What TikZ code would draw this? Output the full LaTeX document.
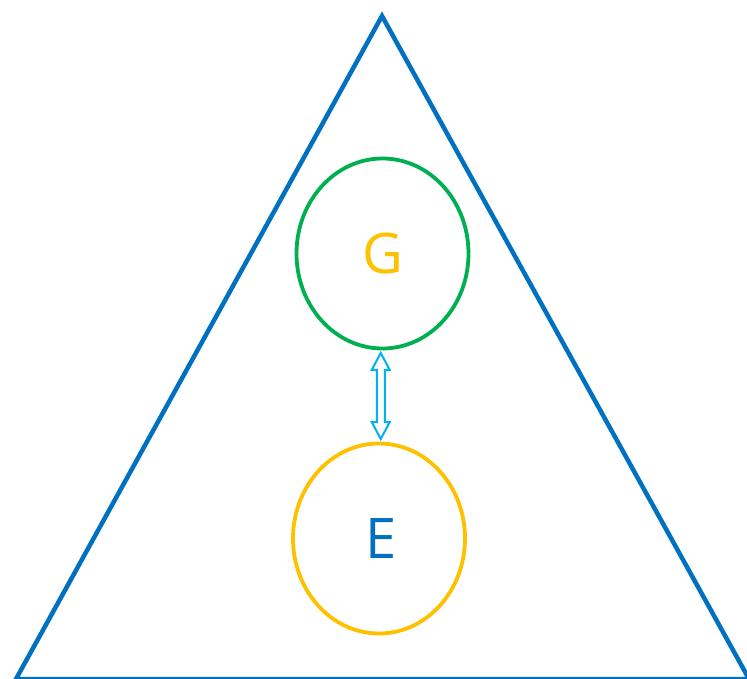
\documentclass[tikz,border=0pt]{standalone}
\usepackage{fontspec}
\setmainfont{Open Sans}
\usetikzlibrary{positioning, calc}
\usetikzlibrary{shapes}
\definecolor{triblue}{HTML}{0070C0}
\definecolor{ringgreen}{HTML}{00B050}
\definecolor{ringgold}{HTML}{FFC000}
\definecolor{linkblue}{HTML}{00B0F0}
\tikzset{
	ring/.style={draw,ellipse,line width=3.8pt,minimum width=172pt,minimum height=190pt,font=\fontsize{56}{60}\selectfont},
	link/.style={draw=linkblue,double arrow,line width=2pt,rotate=90,minimum height=86pt,minimum width=18pt,inner sep=3pt,double arrow head extend=5pt,double arrow tip angle=56}
}

\begin{document}
\begin{tikzpicture}[x=1pt,y=1pt]
		\useasboundingbox (0,0) rectangle (747,678);
		\coordinate (T1) at (382,662);
		\coordinate (T2) at (16,-1);
		\coordinate (T3) at (749,-1);
		\draw [triblue,line width=4.5pt] (T1) -- (T2) -- (T3) -- cycle;
		\node [ring,draw=ringgreen,text=ringgold] (G) at (382.5,424.5) {G};
		\node [ring,draw=ringgold,text=triblue] (E) at (379,139.5) {\raisebox{-4pt}{\hspace*{4pt}E}};
		\node [link] (GE) at ($(G.south)!0.5!(E.north)$) {};
	\end{tikzpicture}
\end{document}
